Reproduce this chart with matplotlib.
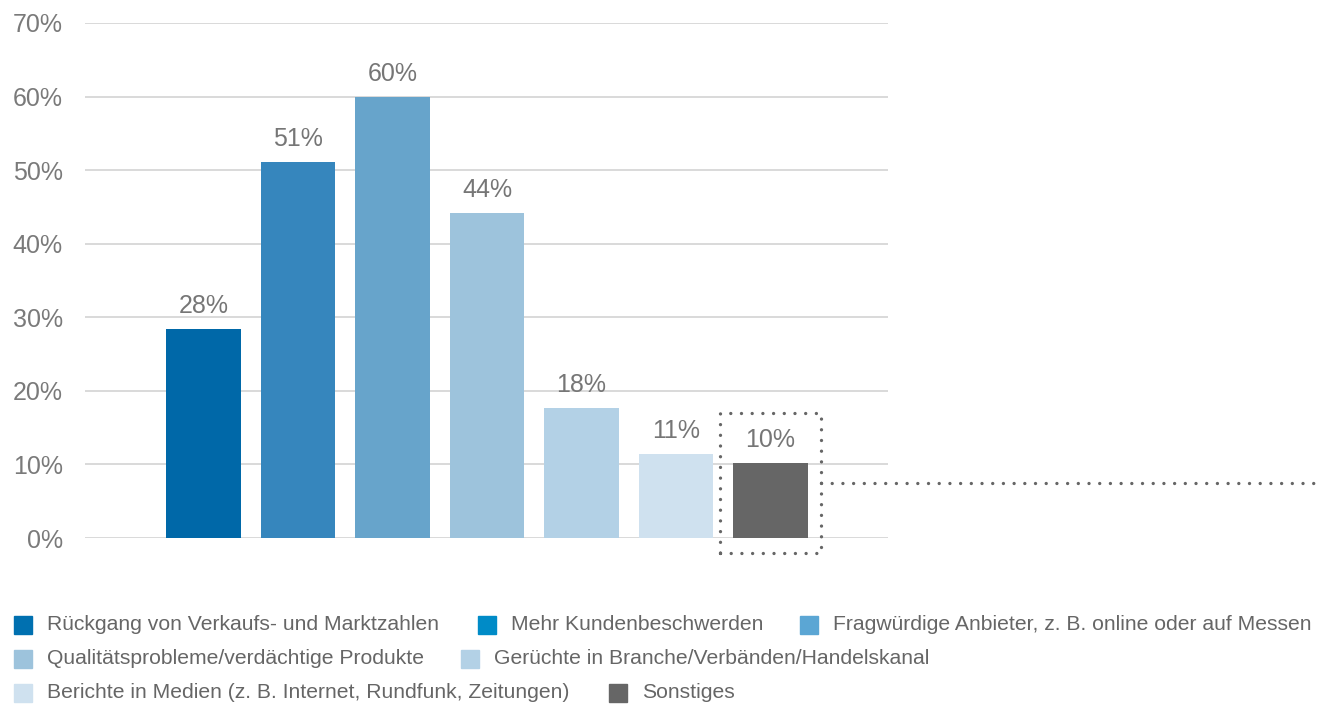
import matplotlib
matplotlib.use("Agg")
import matplotlib.pyplot as plt
from matplotlib.patches import Rectangle

plt.rcParams['font.family'] = ['Liberation Sans', 'DejaVu Sans']

categories = [
    "Rückgang von Verkaufs- und Marktzahlen",
    "Mehr Kundenbeschwerden",
    "Fragwürdige Anbieter, z. B. online oder auf Messen",
    "Qualitätsprobleme/verdächtige Produkte",
    "Gerüchte in Branche/Verbänden/Handelskanal",
    "Berichte in Medien (z. B. Internet, Rundfunk, Zeitungen)",
    "Sonstiges",
]
values = [28.4, 51.1, 60.0, 44.2, 17.7, 11.4, 10.2]
bar_colors = ["#0068a8", "#3686bd", "#67a4cb", "#9dc3dc", "#b3d1e6", "#cfe1ef", "#666666"]
legend_colors = ["#0070b0", "#008bc7", "#5ba6d4", "#9dc3dc", "#b3d1e6", "#cfe1ef", "#666666"]
yticks = [0, 10, 20, 30, 40, 50, 60, 70]

W, H = 1319, 706
fig = plt.figure(figsize=(W / 100, H / 100), dpi=100)
ax = fig.add_axes([85 / W, 1 - 538 / H, (888 - 85) / W, (538 - 23) / H])

x = list(range(len(values)))
ax.bar(x, values, width=0.79, color=bar_colors, zorder=2)
for xi, v in zip(x, values):
    ax.text(xi, v + 1.5, f"{v:.0f}%", ha="center", va="bottom",
            fontsize=18, color="#767676")

ax.set_xlim(-1.254, 7.243)
ax.set_ylim(0, 70)
ax.set_yticks(yticks)
ax.set_yticklabels([f"{t}%" for t in yticks])
ax.set_xticks([])
ax.grid(axis="y", color="#d9d9d9", linewidth=1.4, zorder=0)
ax.tick_params(axis="y", length=0, pad=16, labelsize=18, labelcolor="#7a7a7a")
for s in ax.spines.values():
    s.set_visible(False)

# dotted frame around "Sonstiges" and the leader line to the right
dot = dict(color="#666666", linewidth=2.4, linestyle=(0, (0.01, 3.2)),
           dash_capstyle="round", clip_on=False, zorder=3)
bx = x[-1]
x0, x1 = bx - 0.53, bx + 0.53
y0, y1 = -2.0, 17.0
ax.plot([x0, x1, x1, x0, x0], [y0, y0, y1, y1, y0], **dot)
ax.plot([x1, 11.76], [7.5, 7.5], **dot)

# legend laid out in rows
rows = [(625, [(14, 0), (478, 1), (800, 2)]),
        (659, [(14, 3), (461, 4)]),
        (693, [(14, 5), (609, 6)])]
for yc, items in rows:
    for xp, i in items:
        fig.patches.append(Rectangle((xp / W, 1 - (yc + 9) / H), 18 / W, 18 / H,
                                     transform=fig.transFigure, color=legend_colors[i]))
        fig.text((xp + 33) / W, 1 - yc / H, categories[i], ha="left", va="center",
                 fontsize=15.2, color="#666666")

fig.savefig("out.png", dpi=100)
